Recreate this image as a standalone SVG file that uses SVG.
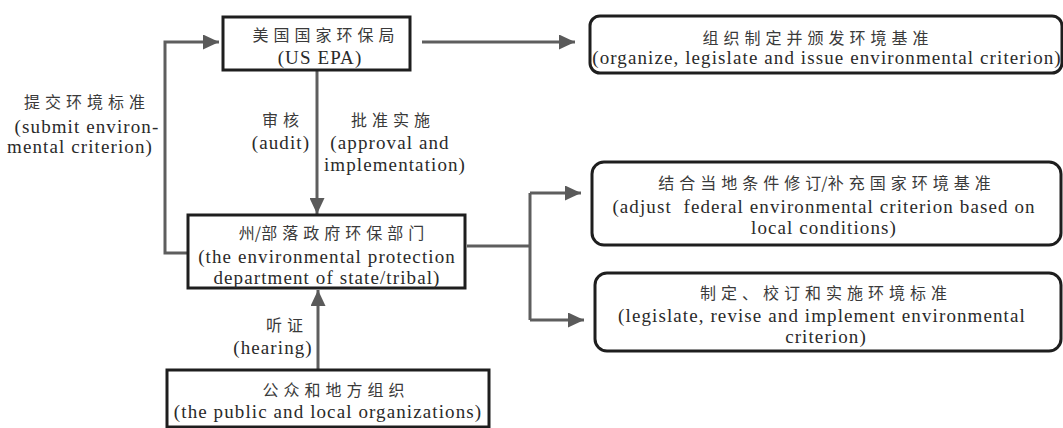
<svg xmlns="http://www.w3.org/2000/svg" width="1063" height="428" viewBox="0 0 1063 428">
<defs>
<marker id="ah" markerUnits="userSpaceOnUse" markerWidth="17" markerHeight="15" refX="16" refY="7.5" orient="auto">
<path d="M0,0 L16,7.5 L0,15 Z" fill="#5a5a5a"/>
</marker>
<style>
.box{fill:#fff;stroke:#1e1e1e;stroke-width:3}
.conn{fill:none;stroke:#5e5e5e;stroke-width:3}
.cn{font-family:"Noto Sans CJK SC",sans-serif;font-size:16px;letter-spacing:5px;fill:#3a3a3a;text-anchor:middle}
.en{font-family:"Liberation Serif",serif;font-size:19px;letter-spacing:1.1px;fill:#2a2a2a;text-anchor:middle}
.tight{letter-spacing:0}
</style>
</defs>
<rect width="1063" height="428" fill="#fff"/>
<g id="connectors">
<line class="conn" x1="422" y1="42" x2="575" y2="42" marker-end="url(#ah)"/>
<path class="conn" d="M188,253 H165 V42 H219" marker-end="url(#ah)"/>
<line class="conn" x1="317" y1="70" x2="317" y2="214" marker-end="url(#ah)"/>
<line class="conn" x1="318" y1="370" x2="318" y2="290" marker-end="url(#ah)"/>
<path class="conn" d="M467,246 H530 M530,193 V320"/>
<path class="conn" d="M530,193 H581" marker-end="url(#ah)"/>
<path class="conn" d="M530,320 H584" marker-end="url(#ah)"/>
<g id="edge-labels">
<text class="cn" x="283" y="126">审核</text>
<text class="en" x="281" y="149">(audit)</text>
<text class="cn" x="393" y="126">批准实施</text>
<text class="en" x="390" y="149">(approval and</text>
<text class="en" x="395" y="171">implementation)</text>
<text class="cn" x="87" y="108">提交环境标准</text>
<text class="en" x="87" y="133">(submit environ-</text>
<text class="en" x="80" y="153">mental criterion)</text>
<text class="cn" x="287" y="331">听证</text>
<text class="en" x="273" y="354">(hearing)</text>
</g>
</g>
<g id="epa">
<rect class="box" x="223" y="17" width="187" height="53"/>
<text class="cn" x="326" y="41">美国国家环保局</text>
<text class="en" x="320" y="64">(US EPA)</text>
</g>
<g id="organize">
<rect class="box" x="590" y="16" width="472" height="57" rx="10"/>
<text class="cn" x="818" y="44">组织制定并颁发环境基准</text>
<text class="en" x="827" y="64">(organize, legislate and issue environmental criterion)</text>
</g>
<g id="state">
<rect class="box" x="188" y="215" width="277" height="73"/>
<text class="cn" x="334" y="239"><tspan class="tight">州/</tspan>部落政府环保部门</text>
<text class="en" x="327" y="263">(the environmental protection</text>
<text class="en" x="327" y="284">department of state/tribal)</text>
</g>
<g id="adjust">
<rect class="box" x="592" y="162" width="469" height="83" rx="12"/>
<text class="cn" x="827" y="189">结合当地条件修<tspan class="tight">订/</tspan>补充国家环境基准</text>
<text class="en" x="824" y="213" xml:space="preserve">(adjust  federal environmental criterion based on</text>
<text class="en" x="824" y="234">local conditions)</text>
</g>
<g id="legislate">
<rect class="box" x="595" y="273" width="466" height="78" rx="12"/>
<text class="cn" x="826" y="299">制定、校订和实施环境标准</text>
<text class="en" x="822" y="322">(legislate, revise and implement environmental</text>
<text class="en" x="826" y="343">criterion)</text>
</g>
<g id="public">
<rect class="box" x="167" y="370" width="322" height="57"/>
<text class="cn" x="336" y="396">公众和地方组织</text>
<text class="en" x="328" y="418">(the public and local organizations)</text>
</g>
</svg>
